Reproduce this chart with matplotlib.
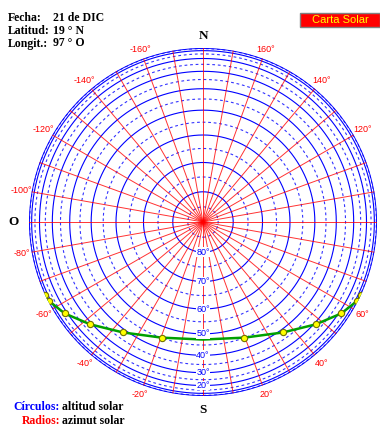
import matplotlib.pyplot as plt
import numpy as np

# sun path for 21 DIC, lat 19 N (altitude / azimuth from south, degrees, east positive)
sun_alt = [0, 5.5, 17.7, 28.9, 38.4, 45.1, 47.5, 45.1, 38.4, 28.9, 17.7, 5.5, 0]
sun_az = [65.1, 62.9, 56.5, 47.8, 35.9, 19.7, 0, -19.7, -35.9, -47.8, -56.5, -62.9, -65.1]
sun_marker = [True] * 6 + [False] + [True] * 6

solid_alts = [0, 10, 20, 30, 40, 50, 60, 70, 80]
dashed_alts = [5, 15, 25, 35, 45, 55, 65, 75, 85]
radial_az = list(range(-180, 180, 10))
az_labels = [-160, -140, -120, -100, -80, -60, -40, -20, 20, 40, 60, 120, 140, 160]
alt_labels = [80, 70, 60, 50, 40, 30, 20]

W, H = 380, 426
cx, cy, R = 203, 222, 174

fig = plt.figure(figsize=(W / 100, H / 100), dpi=100)
ax = fig.add_axes([(cx - R) / W, (H - cy - R) / H, 2 * R / W, 2 * R / H], projection="polar")
ax.set_theta_zero_location("S")
ax.set_theta_direction(1)
ax.set_ylim(0, 1)
ax.set_xticks([])
ax.set_yticks([])
ax.grid(False)
ax.spines["polar"].set_visible(False)
ax.patch.set_alpha(0)

def rad(a):
    return np.cos(np.radians(a))

t = np.linspace(0, 2 * np.pi, 721)
for a in solid_alts:
    ax.plot(t, np.full_like(t, rad(a)), color="blue", lw=1.3 if a == 0 else 0.8)
for a in dashed_alts:
    ax.plot(t, np.full_like(t, rad(a)), color="blue", lw=0.8, alpha=0.8, dashes=(2.5, 2.5))

for a in radial_az:
    ax.plot([np.radians(a)] * 2, [0, 1], color="red", lw=0.7, alpha=0.8)

# sun path
th = np.radians(sun_az)
rr = rad(np.array(sun_alt))
ax.plot(th, rr, color="#00a000", lw=1.8, zorder=5)
m = np.array(sun_marker)
ax.plot(th[m], rr[m], "o", ms=4.5, mfc="yellow", mec="#707000", mew=0.8, zorder=6)

for a in alt_labels:
    ax.text(np.radians(0), rad(a), f"{a}°", color="blue", fontsize=6.5,
            family="Liberation Sans", ha="center", va="center", zorder=7,
            bbox=dict(boxstyle="square,pad=0.05", fc="white", ec="none"))

for a in az_labels:
    ax.text(np.radians(a), 1.058, f"{a}°", color="red", fontsize=6.5,
            family="Liberation Sans", ha="center", va="center", clip_on=False)

serif = dict(family="Liberation Serif", weight="bold")
ax.text(np.pi, 1.07, "N", fontsize=9.5, ha="center", va="center", clip_on=False, **serif)
ax.text(0, 1.08, "S", fontsize=9.5, ha="center", va="center", clip_on=False, **serif)
ax.text(-np.pi / 2, 1.09, "O", fontsize=9.5, ha="center", va="center", clip_on=False, **serif)

def ftext(x, y, s, **kw):
    fig.text(x / W, 1 - y / H, s, va="center", fontsize=8.5, **serif, **kw)

ftext(8, 18, "Fecha:")
ftext(8, 31, "Latitud:")
ftext(8, 43.5, "Longit.:")
ftext(53, 18, "21 de DIC")
ftext(53, 31, "19 ° N")
ftext(53, 43.5, "97 ° O")

ftext(60, 406.5, "Círculos:", color="blue", ha="right")
ftext(62, 406.5, "altitud solar")
ftext(60, 421, "Radios:", color="red", ha="right")
ftext(62, 421, "azimut solar")

fig.patches.append(plt.Rectangle((300 / W, 1 - 27 / H), 80 / W, 14.5 / H,
                                 transform=fig.transFigure, fc="red", ec="#808080", lw=1))
fig.text(340 / W, 1 - 19.8 / H, "Carta Solar", color="yellow", fontsize=8,
         family="Liberation Sans", ha="center", va="center")

plt.savefig("out.png", dpi=100)
